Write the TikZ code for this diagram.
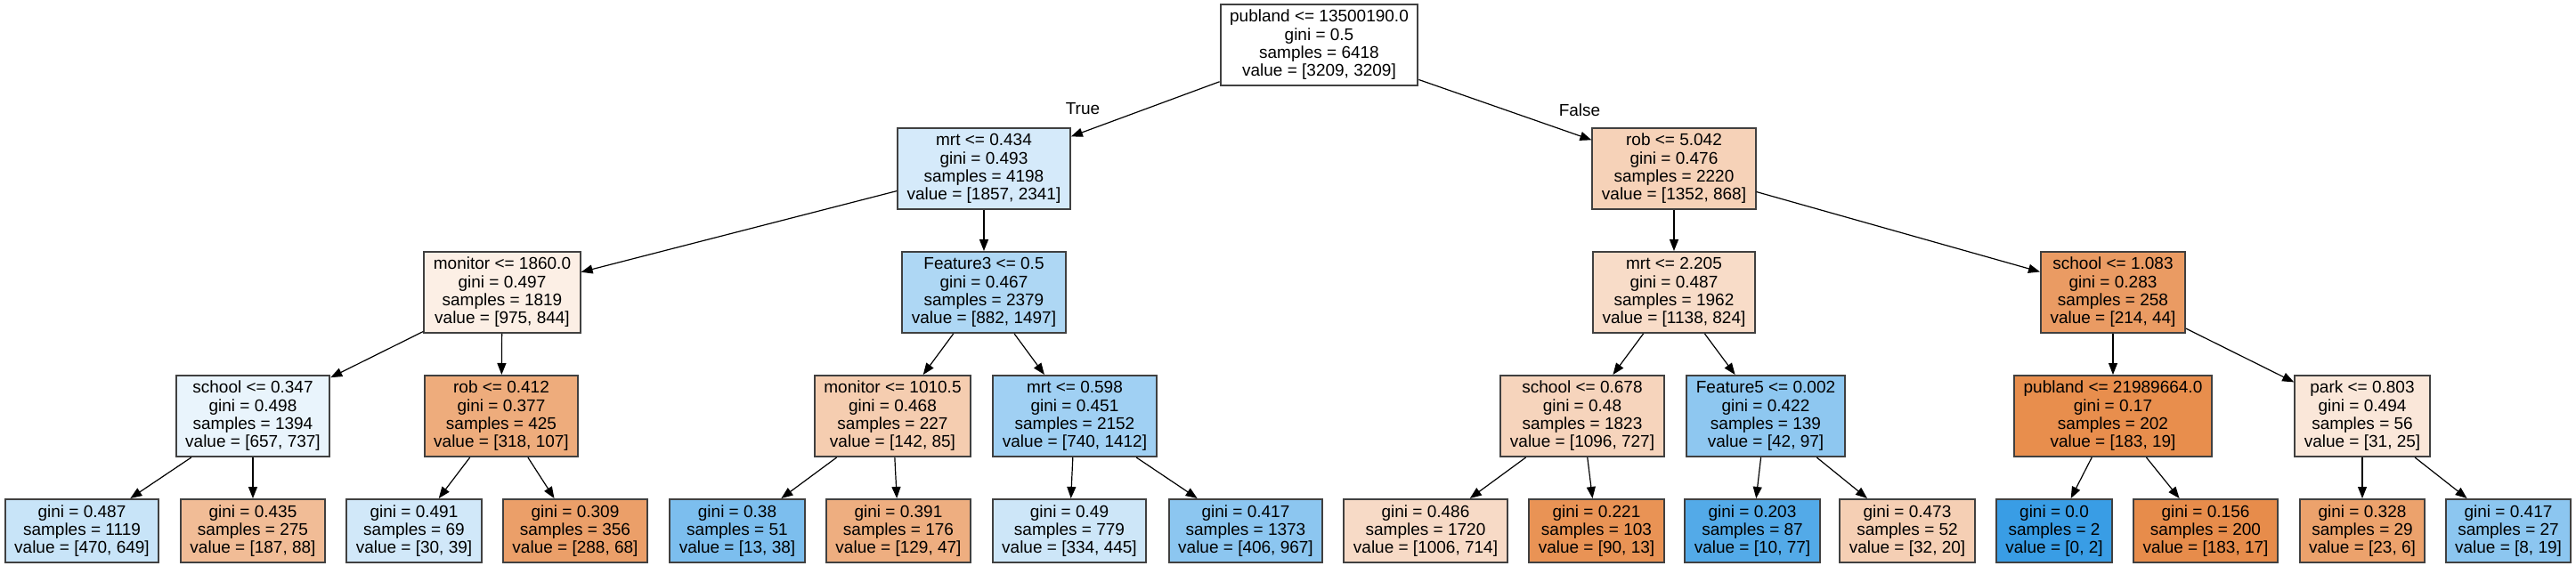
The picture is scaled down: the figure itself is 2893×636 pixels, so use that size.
\documentclass[tikz,border=0pt]{standalone}
\usepackage{fontspec}
\setmainfont{Liberation Sans}
\usetikzlibrary{arrows.meta}
\definecolor{classzero}{HTML}{E58139}
\definecolor{classone}{HTML}{399DE5}
\definecolor{framegray}{HTML}{404040}

\begin{document}
\begin{tikzpicture}[
  x=0.5pt, y=-0.5pt,
  box/.style={draw=framegray,line width=1pt,inner xsep=5.25pt,inner ysep=0pt,minimum height=45.5pt,align=center,font=\fontsize{9.5}{10.15}\selectfont},
  leaf/.style={box,minimum height=35.5pt},
  arrow/.style={-{Triangle[length=6.5pt,width=5pt]},line width=0.6pt},
  branch/.style={font=\fontsize{9.5}{10.15}\selectfont}
]
\useasboundingbox (0,0) rectangle (2893,636);
% depth 0
\node[box,fill=white] (root) at (1481.5,50.5) {publand <= 13500190.0\\gini = 0.5\\samples = 6418\\value = [3209, 3209]};
% depth 1
\node[box,fill=classone!21!white] (mrtA) at (1105,189.5) {mrt <= 0.434\\gini = 0.493\\samples = 4198\\value = [1857, 2341]};
\node[box,fill=classzero!36!white] (robA) at (1880,189.5) {rob <= 5.042\\gini = 0.476\\samples = 2220\\value = [1352, 868]};
% depth 2
\node[box,fill=classzero!13!white] (monitorA) at (564,328.5) {monitor <= 1860.0\\gini = 0.497\\samples = 1819\\value = [975, 844]};
\node[box,fill=classone!41!white] (featthree) at (1105,328.5) {Feature3 <= 0.5\\gini = 0.467\\samples = 2379\\value = [882, 1497]};
\node[box,fill=classzero!28!white] (mrtB) at (1880,328.5) {mrt <= 2.205\\gini = 0.487\\samples = 1962\\value = [1138, 824]};
\node[box,fill=classzero!79!white] (schoolA) at (2373,328.5) {school <= 1.083\\gini = 0.283\\samples = 258\\value = [214, 44]};
% depth 3
\node[box,fill=classone!11!white] (schoolB) at (284,467.5) {school <= 0.347\\gini = 0.498\\samples = 1394\\value = [657, 737]};
\node[box,fill=classzero!66!white] (robB) at (563,467.5) {rob <= 0.412\\gini = 0.377\\samples = 425\\value = [318, 107]};
\node[box,fill=classzero!40!white] (monitorB) at (1002.5,467.5) {monitor <= 1010.5\\gini = 0.468\\samples = 227\\value = [142, 85]};
\node[box,fill=classone!48!white] (mrtC) at (1207,467.5) {mrt <= 0.598\\gini = 0.451\\samples = 2152\\value = [740, 1412]};
\node[box,fill=classzero!34!white] (schoolC) at (1777,467.5) {school <= 0.678\\gini = 0.48\\samples = 1823\\value = [1096, 727]};
\node[box,fill=classone!57!white] (featfive) at (1983,467.5) {Feature5 <= 0.002\\gini = 0.422\\samples = 139\\value = [42, 97]};
\node[box,fill=classzero!90!white] (publandB) at (2373,467.5) {publand <= 21989664.0\\gini = 0.17\\samples = 202\\value = [183, 19]};
\node[box,fill=classzero!19!white] (park) at (2653,467.5) {park <= 0.803\\gini = 0.494\\samples = 56\\value = [31, 25]};
% leaves
\node[leaf,fill=classone!28!white] (leafA) at (92,596.5) {gini = 0.487\\samples = 1119\\value = [470, 649]};
\node[leaf,fill=classzero!53!white] (leafB) at (284,596.5) {gini = 0.435\\samples = 275\\value = [187, 88]};
\node[leaf,fill=classone!23!white] (leafC) at (465,596.5) {gini = 0.491\\samples = 69\\value = [30, 39]};
\node[leaf,fill=classzero!76!white] (leafD) at (646,596.5) {gini = 0.309\\samples = 356\\value = [288, 68]};
\node[leaf,fill=classone!66!white] (leafE) at (828,596.5) {gini = 0.38\\samples = 51\\value = [13, 38]};
\node[leaf,fill=classzero!64!white] (leafF) at (1009,596.5) {gini = 0.391\\samples = 176\\value = [129, 47]};
\node[leaf,fill=classone!25!white] (leafG) at (1201,596.5) {gini = 0.49\\samples = 779\\value = [334, 445]};
\node[leaf,fill=classone!58!white] (leafH) at (1399,596.5) {gini = 0.417\\samples = 1373\\value = [406, 967]};
\node[leaf,fill=classzero!29!white] (leafI) at (1601,596.5) {gini = 0.486\\samples = 1720\\value = [1006, 714]};
\node[leaf,fill=classzero!86!white] (leafJ) at (1793,596.5) {gini = 0.221\\samples = 103\\value = [90, 13]};
\node[leaf,fill=classone!87!white] (leafK) at (1968,596.5) {gini = 0.203\\samples = 87\\value = [10, 77]};
\node[leaf,fill=classzero!38!white] (leafL) at (2142,596.5) {gini = 0.473\\samples = 52\\value = [32, 20]};
\node[leaf,fill=classone] (leafM) at (2307,596.5) {gini = 0.0\\samples = 2\\value = [0, 2]};
\node[leaf,fill=classzero!91!white] (leafN) at (2477,596.5) {gini = 0.156\\samples = 200\\value = [183, 17]};
\node[leaf,fill=classzero!74!white] (leafO) at (2653,596.5) {gini = 0.328\\samples = 29\\value = [23, 6]};
\node[leaf,fill=classone!58!white] (leafP) at (2817,596.5) {gini = 0.417\\samples = 27\\value = [8, 19]};
% branch labels
\node[branch] (truelbl) at (1216,122) {True};
\node[branch] (falselbl) at (1774,124) {False};
% edges
\draw[arrow] (root) -- (mrtA);
\draw[arrow] (root) -- (robA);
\draw[arrow] (mrtA) -- (monitorA);
\draw[arrow] (mrtA) -- (featthree);
\draw[arrow] (robA) -- (mrtB);
\draw[arrow] (robA) -- (schoolA);
\draw[arrow] (monitorA) -- (schoolB);
\draw[arrow] (monitorA) -- (robB);
\draw[arrow] (featthree) -- (monitorB);
\draw[arrow] (featthree) -- (mrtC);
\draw[arrow] (mrtB) -- (schoolC);
\draw[arrow] (mrtB) -- (featfive);
\draw[arrow] (schoolA) -- (publandB);
\draw[arrow] (schoolA) -- (park);
\draw[arrow] (schoolB) -- (leafA);
\draw[arrow] (schoolB) -- (leafB);
\draw[arrow] (robB) -- (leafC);
\draw[arrow] (robB) -- (leafD);
\draw[arrow] (monitorB) -- (leafE);
\draw[arrow] (monitorB) -- (leafF);
\draw[arrow] (mrtC) -- (leafG);
\draw[arrow] (mrtC) -- (leafH);
\draw[arrow] (schoolC) -- (leafI);
\draw[arrow] (schoolC) -- (leafJ);
\draw[arrow] (featfive) -- (leafK);
\draw[arrow] (featfive) -- (leafL);
\draw[arrow] (publandB) -- (leafM);
\draw[arrow] (publandB) -- (leafN);
\draw[arrow] (park) -- (leafO);
\draw[arrow] (park) -- (leafP);
\end{tikzpicture}
\end{document}
